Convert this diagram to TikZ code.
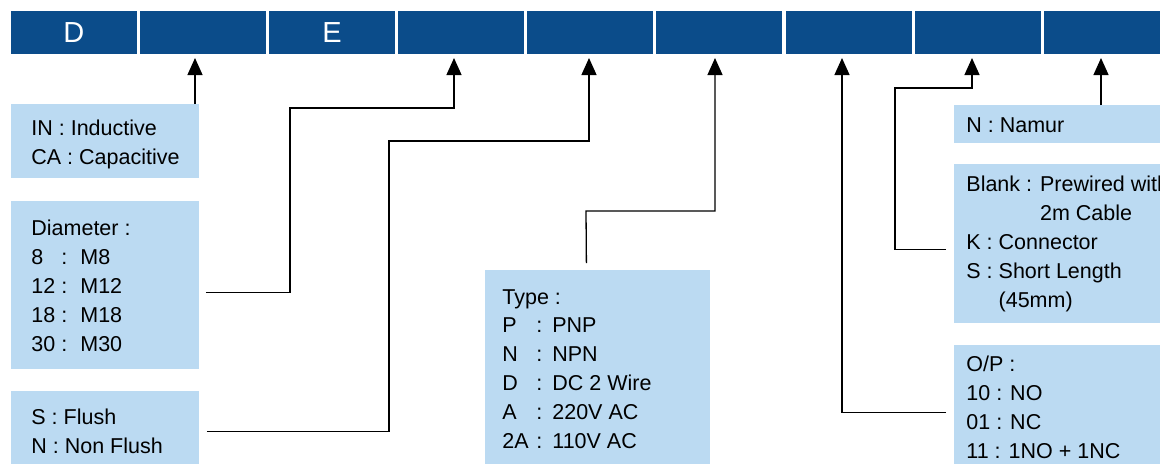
\documentclass[tikz,border=0pt]{standalone}
\usepackage{fontspec}
\setmainfont{Liberation Sans}
\usetikzlibrary{arrows.meta}

\definecolor{barblue}{RGB}{11,76,138}
\definecolor{boxblue}{RGB}{187,218,242}

% key column of a code list, fixed width so the colons line up
\newcommand{\codekey}[2]{\makebox[#1][l]{#2}}

\begin{document}
\begin{tikzpicture}[x=0.5pt,y=-0.5pt,
		seg/.style={fill=barblue, minimum width=63pt, minimum height=21.5pt, inner sep=0pt,
			anchor=north west, text=white, font=\fontsize{14.5}{17}\selectfont},
		optbox/.style={fill=boxblue, inner sep=0pt, anchor=north west},
		opttext/.style={anchor=base west, align=left, inner sep=0pt,
			font=\fontsize{10.75}{14.4}\selectfont},
		lead/.style={draw=black, line width=0.65pt, -{Triangle[width=7.5pt,length=8.5pt]}}]
		\useasboundingbox (0,0) rectangle (1160,463);

		% code bar
		\foreach \lbl [count=\i] in {D,{},E,{},{},{},{},{},{}}
			\node[seg] (seg\i) at ({10.5+129.1*(\i-1)},11) {\lbl};

		% arrow tips under the bar
		\coordinate (t2) at (195,58);
		\coordinate (t4) at (454,58);
		\coordinate (t5) at (589,58);
		\coordinate (t6) at (715,58);
		\coordinate (t7) at (842,58);
		\coordinate (t8) at (972,58);
		\coordinate (t9) at (1101,58);

		% option boxes, left (text placed by its last baseline)
		\node[optbox, minimum width=94pt, minimum height=37pt] (inbox) at (11,104) {};
		\node[opttext] (intext) at (31,164) {IN : Inductive\\CA : Capacitive};

		\node[optbox, minimum width=94pt, minimum height=84pt] (diambox) at (11,201) {};
		\node[opttext] (diamtext) at (31,351) {Diameter :\\
			\codekey{15pt}{8}:\hspace{6.5pt}M8\\
			\codekey{15pt}{12}:\hspace{6.5pt}M12\\
			\codekey{15pt}{18}:\hspace{6.5pt}M18\\
			\codekey{15pt}{30}:\hspace{6.5pt}M30};

		\node[optbox, minimum width=94pt, minimum height=38pt] (flushbox) at (11,391) {};
		\node[opttext] (flushtext) at (31,453) {S : Flush\\N : Non Flush};

		% option box, middle
		\node[optbox, minimum width=112.5pt, minimum height=98.5pt] (typebox) at (485,270) {};
		\node[opttext] (typetext) at (502,448) {Type :\\
			\codekey{17pt}{P}:\hspace{5pt}PNP\\
			\codekey{17pt}{N}:\hspace{5pt}NPN\\
			\codekey{17pt}{D}:\hspace{5pt}DC 2 Wire\\
			\codekey{17pt}{A}:\hspace{5pt}220V AC\\
			\codekey{17pt}{2A}:\hspace{5pt}110V AC};

		% option boxes, right
		\node[optbox, minimum width=120pt, minimum height=19pt] (namurbox) at (954,105) {};
		\node[opttext] (namurtext) at (966,132) {N : Namur};

		\node[optbox, minimum width=120pt, minimum height=79.5pt] (cablebox) at (954,164) {};
		\node[opttext] (cabletext) at (966,307) {Blank : Prewired with\\
			\phantom{Blank : }2m Cable\\
			K : Connector\\
			S : Short Length\\
			\phantom{S : }(45mm)};

		\node[optbox, minimum width=120pt, minimum height=61pt] (opbox) at (954,345) {};
		\node[opttext] (optext) at (966,458) {O/P :\\10 : NO\\01 : NC\\11 : 1NO + 1NC};

		% leaders
		\draw[lead] (inbox.north -| t2) -- (t2);
		\draw[lead] ([xshift=3pt,yshift=-3.5pt]diambox.east) -| (290,108) -| (t4);
		\draw[lead] ([xshift=3.5pt,yshift=-1pt]flushbox.east) -| (389,141) -| (t5);
		\draw[lead] ([xshift=-5.75pt,yshift=3.5pt]typebox.north) -- (586,211) -| (t6);
		\draw[lead] ([xshift=-4pt,yshift=-3pt]opbox.west) -| (t7);
		\draw[lead] ([xshift=-4pt,yshift=-2.75pt]cablebox.west) -| (895,88) -| (t8);
		\draw[lead] (namurbox.north -| t9) -- (t9);

	\end{tikzpicture}
\end{document}
